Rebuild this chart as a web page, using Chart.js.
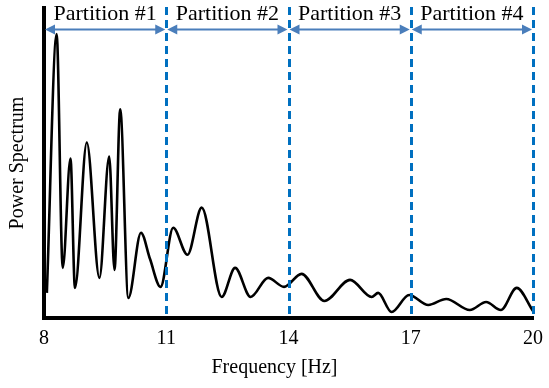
<!DOCTYPE html>
<html>
<head>
<meta charset="utf-8">
<script src="https://cdn.jsdelivr.net/npm/chart.js@4"></script>
<style>
  html, body { margin: 0; padding: 0; background: #fff; }
  #wrap { width: 549px; height: 388px; }
</style>
</head>
<body>
<div id="wrap"><canvas id="chart" width="549" height="388"></canvas></div>
<script>
// Données
const freq = [8.07, 8.31, 8.46, 8.65, 8.76, 9.05, 9.36, 9.60, 9.73, 9.87, 10.07, 10.38, 10.60, 10.86,
    11.17, 11.52, 11.87, 12.36, 12.69, 13.07, 13.50, 13.89, 14.32, 14.88, 15.51, 16.04, 16.20, 16.53,
    16.96, 17.43, 17.87, 18.45, 18.85, 19.21, 19.60, 20.0];
const power = [25, 283, 50, 159, 30, 175, 40, 161, 48, 208, 20, 85, 59, 31,
    90, 63, 110, 21, 50, 21, 40, 31, 44, 17, 38, 21, 25, 6,
    23, 13, 19, 8, 16, 8, 30, 7];
const xTicks = [8, 11, 14, 17, 20];
const bounds = [8, 11, 14, 17, 20]; // limites des partitions
const partitionLabels = ['Partition #1', 'Partition #2', 'Partition #3', 'Partition #4'];
const xTitle = 'Frequency [Hz]';

const serif = "'Liberation Serif', 'Times New Roman', serif";

// Plugin pour les lignes pointillées, flèches et étiquettes
const partitionPlugin = {
    id: 'partitions',
    afterDatasetsDraw(chart) {
        const ctx = chart.ctx;
        const xs = chart.scales.x;
        const area = chart.chartArea;
        ctx.save();

        // lignes verticales pointillées
        ctx.strokeStyle = '#0070C0';
        ctx.lineWidth = 3;
        ctx.setLineDash([8, 5]);
        bounds.slice(1).forEach(b => {
            const px = Math.round(xs.getPixelForValue(b)) + 0.5;
            ctx.beginPath();
            ctx.moveTo(px, area.top - 1);
            ctx.lineTo(px, area.bottom);
            ctx.stroke();
        });
        ctx.setLineDash([]);

        // flèches doubles
        const arrowY = 29.5;
        ctx.strokeStyle = '#4A7EBB';
        ctx.fillStyle = '#4A7EBB';
        ctx.lineWidth = 2;
        for (let i = 0; i < partitionLabels.length; i++) {
            const x1 = xs.getPixelForValue(bounds[i]) + 1;
            const x2 = xs.getPixelForValue(bounds[i + 1]) - 1;
            ctx.beginPath();
            ctx.moveTo(x1 + 6, arrowY);
            ctx.lineTo(x2 - 6, arrowY);
            ctx.stroke();
            ctx.beginPath();
            ctx.moveTo(x1, arrowY);
            ctx.lineTo(x1 + 10, arrowY - 5);
            ctx.lineTo(x1 + 10, arrowY + 5);
            ctx.closePath();
            ctx.fill();
            ctx.beginPath();
            ctx.moveTo(x2, arrowY);
            ctx.lineTo(x2 - 10, arrowY - 5);
            ctx.lineTo(x2 - 10, arrowY + 5);
            ctx.closePath();
            ctx.fill();

            // étiquette
            ctx.fillStyle = '#000';
            ctx.font = '22px ' + serif;
            ctx.textAlign = 'center';
            ctx.textBaseline = 'alphabetic';
            ctx.fillText(partitionLabels[i], (x1 + x2) / 2, 19.5);
            ctx.fillStyle = '#4A7EBB';
        }

        // titre de l'axe X (centré sur la figure)
        ctx.fillStyle = '#000';
        ctx.font = '20px ' + serif;
        ctx.textAlign = 'center';
        ctx.textBaseline = 'middle';
        ctx.fillText(xTitle, chart.width / 2, 368);
        ctx.restore();
    }
};

new Chart(document.getElementById('chart'), {
    type: 'line',
    data: {
        datasets: [{
            data: freq.map((f, i) => ({ x: f, y: power[i] })),
            borderColor: '#000',
            borderWidth: 2.6,
            pointRadius: 0,
            fill: false,
            cubicInterpolationMode: 'monotone'
        }]
    },
    options: {
        responsive: false,
        animation: false,
        layout: { padding: { left: 2, right: 0, top: 8, bottom: 28 } },
        plugins: {
            legend: { display: false },
            tooltip: { enabled: false }
        },
        scales: {
            x: {
                type: 'linear',
                min: 8,
                max: 20,
                afterBuildTicks: axis => { axis.ticks = xTicks.map(v => ({ value: v })); },
                afterFit: axis => { axis.paddingRight = 16; },
                grid: { display: false, drawTicks: false },
                border: { display: true, color: '#000', width: 4 },
                ticks: { color: '#000', font: { family: serif, size: 20 }, padding: 9, maxRotation: 0 }
            },
            y: {
                min: 0,
                max: 309,
                grid: { display: false, drawTicks: false },
                border: { display: true, color: '#000', width: 4 },
                ticks: { display: false },
                title: { display: true, text: 'Power Spectrum', color: '#000', font: { family: serif, size: 20 }, padding: { top: 4, bottom: 14 } }
            }
        }
    },
    plugins: [partitionPlugin]
});
</script>
</body>
</html>
